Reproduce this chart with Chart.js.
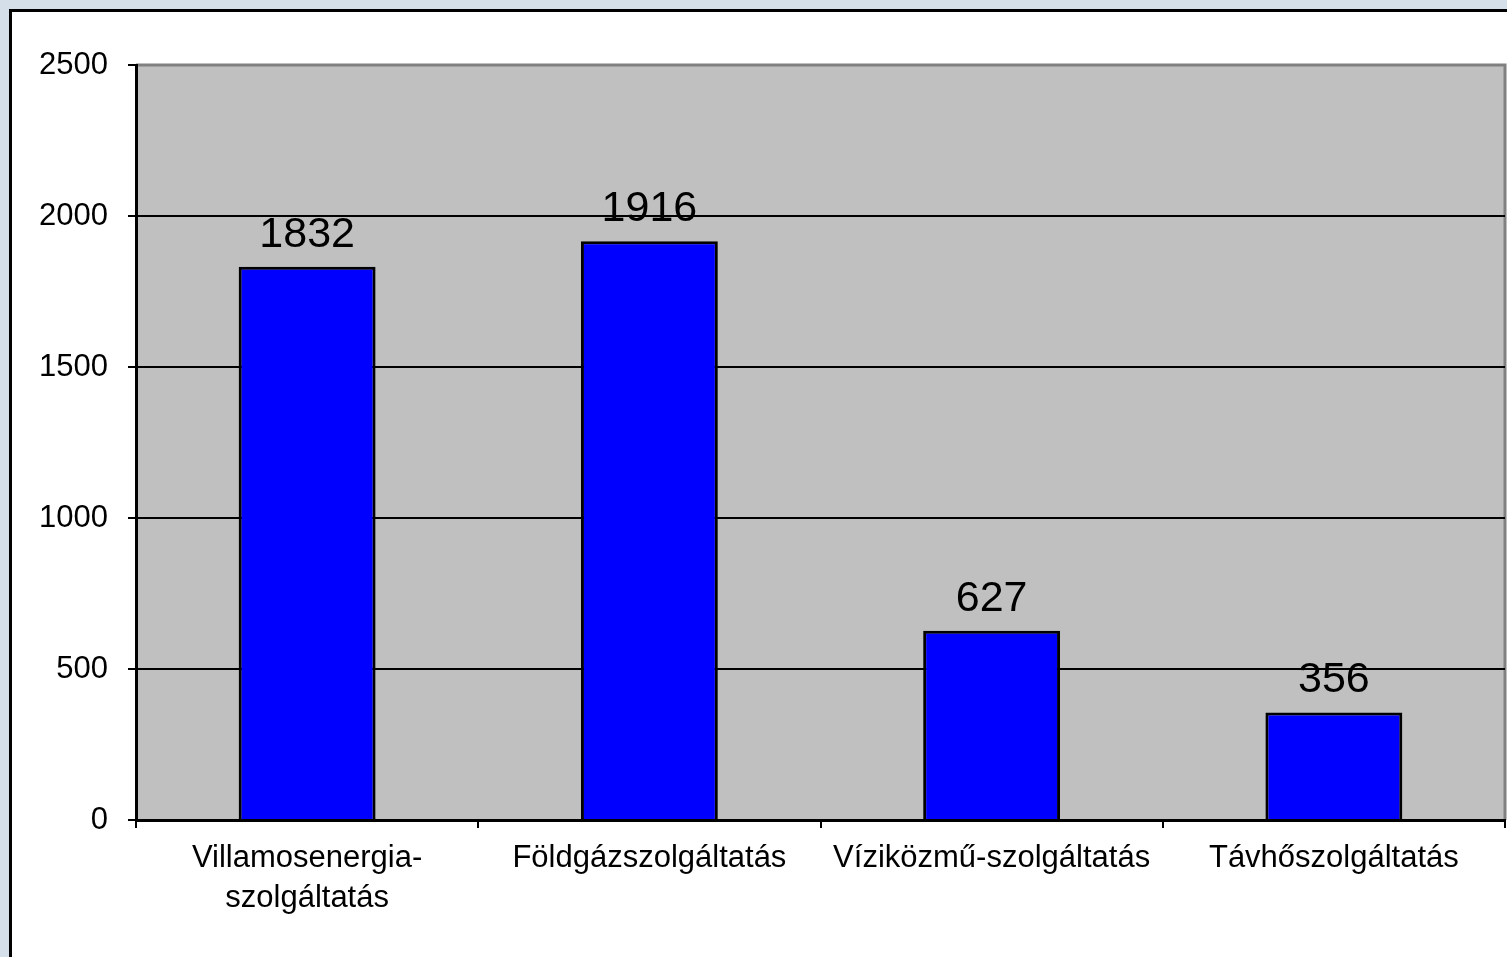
<!DOCTYPE html>
<html>
<head>
<meta charset="utf-8">
<script src="https://cdn.jsdelivr.net/npm/chart.js@4.4.1/dist/chart.umd.min.js"></script>
<style>
  html, body { margin: 0; padding: 0; overflow: hidden; background: #d4dfe9; }
  #frame {
    position: absolute; left: 9px; top: 9px;
    width: 1700px; height: 1200px;
    border: 3px solid #000; background: #fff;
  }
  #wrap { position: absolute; left: 0; top: 0; width: 1507px; height: 957px; }
</style>
</head>
<body>
<div id="frame"></div>
<div id="wrap"><canvas id="serviceChart"></canvas></div>
<script>
// Chart data
const categories = [['Villamosenergia-', 'szolgáltatás'], 'Földgázszolgáltatás', 'Víziközmű-szolgáltatás', 'Távhőszolgáltatás'];
const values = [1832, 1916, 627, 356];
const yTicks = [0, 500, 1000, 1500, 2000, 2500];

const fontFamily = '"Liberation Sans", Arial, sans-serif';

// gray plot area with gray top/right edge
const plotBackground = {
    id: 'plotBackground',
    beforeDraw(chart) {
        const { ctx, chartArea: a } = chart;
        ctx.save();
        ctx.fillStyle = '#c0c0c0';
        ctx.fillRect(a.left, a.top, a.right - a.left, a.bottom - a.top);
        ctx.strokeStyle = '#808080';
        ctx.lineWidth = 3;
        ctx.beginPath();
        ctx.moveTo(a.left, a.top);
        ctx.lineTo(a.right, a.top);
        ctx.lineTo(a.right, a.bottom);
        ctx.stroke();
        ctx.restore();
    }
};

// value labels above bars
const valueLabels = {
    id: 'valueLabels',
    afterDatasetsDraw(chart) {
        const { ctx } = chart;
        const meta = chart.getDatasetMeta(0);
        ctx.save();
        ctx.font = '43px ' + fontFamily;
        ctx.fillStyle = '#000';
        ctx.textAlign = 'center';
        ctx.textBaseline = 'alphabetic';
        meta.data.forEach(function(bar, i) {
            ctx.fillText(String(values[i]), bar.x, bar.y - 20);
        });
        ctx.restore();
    }
};

const ctx = document.getElementById('serviceChart').getContext('2d');
new Chart(ctx, {
    type: 'bar',
    data: {
        labels: categories,
        datasets: [{
            data: values,
            backgroundColor: '#0000ff',
            borderColor: '#000000',
            borderWidth: 3,
            borderSkipped: 'bottom',
            barPercentage: 0.4,
            categoryPercentage: 1.0
        }]
    },
    options: {
        responsive: true,
        maintainAspectRatio: false,
        animation: false,
        layout: {
            padding: { top: 65, right: 2, bottom: 0, left: 0 }
        },
        scales: {
            y: {
                min: 0,
                max: 2500,
                afterBuildTicks: function(scale) {
                    scale.ticks = yTicks.map(function(v) { return { value: v }; });
                },
                afterFit: function(scale) { scale.width = 136; },
                grid: {
                    color: function(c) { return c.tick && c.tick.value === 2500 ? 'rgba(0,0,0,0)' : '#000'; },
                    lineWidth: 2,
                    tickColor: '#000',
                    tickLength: 8
                },
                border: { color: '#000', width: 3 },
                ticks: {
                    color: '#000',
                    padding: 20,
                    font: { family: fontFamily, size: 31 },
                    callback: function(value) { return String(value); }
                }
            },
            x: {
                afterFit: function(scale) { scale.height = 137; },
                grid: {
                    drawOnChartArea: false,
                    tickColor: '#000',
                    tickLength: 8,
                    lineWidth: 2
                },
                border: { color: '#000', width: 3 },
                ticks: {
                    color: '#000',
                    padding: 10,
                    maxRotation: 0,
                    autoSkip: false,
                    font: { family: fontFamily, size: 31, lineHeight: 1.3 }
                }
            }
        },
        plugins: {
            legend: { display: false },
            tooltip: { enabled: false }
        }
    },
    plugins: [plotBackground, valueLabels]
});
</script>
</body>
</html>
